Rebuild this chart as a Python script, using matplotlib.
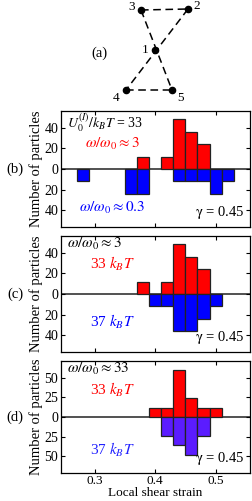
import matplotlib
matplotlib.use('Agg')
import matplotlib.pyplot as plt

plt.rcParams['font.family'] = ['Liberation Serif', 'DejaVu Serif']
plt.rcParams['mathtext.fontset'] = 'stix'

# local shear strain bins (left edges), width 0.02
bin_w = 0.02

# panel (b)
b_red_x = [0.37, 0.41, 0.43, 0.45, 0.47]
b_red_n = [12, 12, 48, 36, 24]
b_blue_x = [0.27, 0.35, 0.37, 0.43, 0.45, 0.47, 0.49, 0.51]
b_blue_n = [12, 24, 24, 12, 12, 12, 24, 12]

# panel (c)
c_red_x = [0.37, 0.41, 0.43, 0.45, 0.47]
c_red_n = [12, 12, 48, 36, 24]
c_blue_x = [0.39, 0.41, 0.43, 0.45, 0.47, 0.49]
c_blue_n = [12, 12, 36, 36, 24, 12]

# panel (d)
d_red_x = [0.39, 0.41, 0.43, 0.45, 0.47, 0.49]
d_red_n = [12, 12, 60, 24, 12, 12]
d_blue_x = [0.41, 0.43, 0.45, 0.47]
d_blue_n = [24, 36, 48, 24]

# schematic (a): node positions in pixel-like units
node_id = ['1', '2', '3', '4', '5']
node_x = [155, 188, 141, 126, 172]
node_y = [50, 9, 10, 90, 90]
edges = [('3', '2'), ('2', '4'), ('3', '5'), ('4', '5')]

fig = plt.figure(figsize=(2.52, 5.01), dpi=100)

# (a) schematic
axa = fig.add_axes([0, 1 - 108 / 501, 1, 108 / 501])
axa.set_xlim(0, 252)
axa.set_ylim(108, 0)
axa.axis('off')
pos = {k: (x, y) for k, x, y in zip(node_id, node_x, node_y)}
for p, q in edges:
    axa.plot([pos[p][0], pos[q][0]], [pos[p][1], pos[q][1]], color='black',
             lw=1.1, ls=(0, (5, 3)))
axa.scatter(node_x, node_y, s=20, color='black', zorder=3)
lab_off = {'1': (-10, 0), '2': (9, -3), '3': (-9, -3), '4': (-10, 8), '5': (9, 8)}
for k in node_id:
    dx, dy = lab_off[k]
    axa.text(pos[k][0] + dx, pos[k][1] + dy, k, fontsize=9.5, ha='center', va='center')
axa.text(99, 53, '(a)', fontsize=10.5, ha='center', va='center')

left = 61 / 252
width = 189 / 252
panels = [
    (1 - 227 / 501, 116 / 501, b_red_x, b_red_n, b_blue_x, b_blue_n, '#0000ff', 56, [40, 20, 0, -20, -40], '(b)'),
    (1 - 352 / 501, 116 / 501, c_red_x, c_red_n, c_blue_x, c_blue_n, '#0000ff', 56, [40, 20, 0, -20, -40], '(c)'),
    (1 - 473 / 501, 112 / 501, d_red_x, d_red_n, d_blue_x, d_blue_n, '#5b1cff', 71, [50, 25, 0, -25, -50], '(d)'),
]

axes = []
for bottom, height, rx, rn, bx, bn, bcol, ylim, yt, tag in panels:
    ax = fig.add_axes([left, bottom, width, height])
    ax.bar(rx, rn, width=bin_w, align='edge', color='#ff0000', edgecolor='#222222', lw=0.9)
    ax.bar(bx, [-v for v in bn], width=bin_w, align='edge', color=bcol, edgecolor='#222222', lw=0.9)
    ax.axhline(0, color='#333333', lw=1.2, zorder=0)
    ax.set_xlim(0.244, 0.557)
    ax.set_ylim(-ylim, ylim)
    ax.set_yticks(yt)
    ax.set_yticklabels([str(abs(v)) for v in yt])
    ax.set_xticks([0.3, 0.4, 0.5])
    ax.tick_params(direction='in', top=True, right=True, labelsize=10, length=3, width=0.8, pad=2)
    ax.set_ylabel('Number of particles', fontsize=10.5, labelpad=1)
    ax.text(-0.2, 0.5, tag, transform=ax.transAxes, fontsize=10.5, ha='right', va='center')
    ax.text(0.97, 0.05, r'$\mathrm{\gamma}$ = 0.45', transform=ax.transAxes, fontsize=10.5,
            ha='right', va='bottom')
    for s in ax.spines.values():
        s.set_linewidth(0.9)
    axes.append(ax)

axb, axc, axd = axes
axb.set_xticklabels([])
axc.set_xticklabels([])
axd.set_xticklabels(['0.3', '0.4', '0.5'])
axd.tick_params(axis='x', pad=1.5, labelsize=9.5)
axd.set_xlabel('Local shear strain', fontsize=9.5, labelpad=0)

axb.text(0.03, 0.90, r'$U_0^{(I)}/k_BT$ = 33', transform=axb.transAxes, fontsize=10, ha='left', va='center')
axb.text(0.27, 0.72, r'$\omega/\omega_0 \approx 3$', transform=axb.transAxes, fontsize=11,
         color='#ff0000', ha='center', va='center')
axb.text(0.27, 0.16, r'$\omega/\omega_0 \approx 0.3$', transform=axb.transAxes, fontsize=11,
         color='#0000ff', ha='center', va='center')

axc.text(0.03, 0.93, r'$\omega/\omega_0 \approx 3$', transform=axc.transAxes, fontsize=11, ha='left', va='center')
axc.text(0.27, 0.76, r'33 $k_BT$', transform=axc.transAxes, fontsize=11,
         color='#ff0000', ha='center', va='center')
axc.text(0.27, 0.26, r'37 $k_BT$', transform=axc.transAxes, fontsize=11,
         color='#0000ff', ha='center', va='center')

axd.text(0.03, 0.93, r'$\omega/\omega_0 \approx 33$', transform=axd.transAxes, fontsize=11, ha='left', va='center')
axd.text(0.27, 0.74, r'33 $k_BT$', transform=axd.transAxes, fontsize=11,
         color='#ff0000', ha='center', va='center')
axd.text(0.27, 0.21, r'37 $k_BT$', transform=axd.transAxes, fontsize=11,
         color='#2222ff', ha='center', va='center')

fig.savefig('out.png', dpi=100)
